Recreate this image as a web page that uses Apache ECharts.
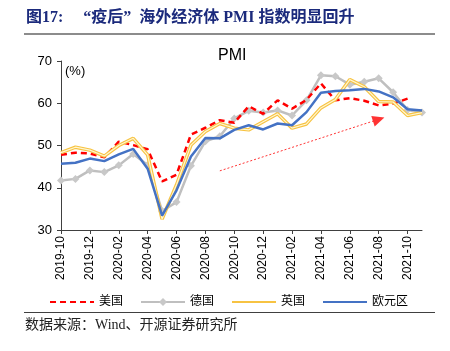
<!DOCTYPE html>
<html>
<head>
<meta charset="utf-8">
<script src="https://cdn.jsdelivr.net/npm/echarts@6/dist/echarts.min.js"></script>
<style>
  html, body { margin: 0; padding: 0; background: #fff; }
  #main { width: 450px; height: 351px; }
</style>
</head>
<body>
<div id="main"></div>
<script>
// 月份标签
const months = [
    '2019-10', '2019-11', '2019-12', '2020-01', '2020-02', '2020-03', '2020-04', '2020-05',
    '2020-06', '2020-07', '2020-08', '2020-09', '2020-10', '2020-11', '2020-12', '2021-01',
    '2021-02', '2021-03', '2021-04', '2021-05', '2021-06', '2021-07', '2021-08', '2021-09',
    '2021-10', '2021-11'
];

// 各经济体制造业 PMI
const usPMI = [47.8, 48.3, 48.1, 47.2, 50.9, 50.1, 49.1, 41.5, 43.1, 52.6, 54.2, 56.0, 55.4,
    59.3, 57.5, 60.7, 58.7, 60.8, 64.7, 60.7, 61.2, 60.6, 59.5, 59.9, 61.1, null];
const dePMI = [41.7, 42.1, 44.1, 43.7, 45.3, 48.0, 45.4, 34.5, 36.6, 45.2, 51.0, 52.2, 56.4,
    58.2, 57.8, 58.3, 57.1, 60.7, 66.6, 66.4, 64.4, 65.1, 65.9, 62.6, 58.4, 57.8];
const ukPMI = [48.3, 49.6, 48.9, 47.5, 50.0, 51.7, 47.8, 32.6, 40.7, 50.1, 53.3, 55.2, 54.1,
    53.7, 55.6, 57.5, 54.1, 55.1, 58.9, 60.9, 65.6, 63.9, 60.4, 60.3, 57.1, 57.8];
const euPMI = [45.7, 45.9, 46.9, 46.3, 47.9, 49.2, 44.5, 33.4, 39.4, 47.4, 51.8, 51.7, 53.7,
    54.8, 53.8, 55.2, 54.8, 57.9, 62.5, 62.9, 63.1, 63.4, 62.8, 61.4, 58.6, 58.3];

const yTicks = { min: 30, max: 70, interval: 10 };

// 箭头起止 (月份, 数值)
const arrowFrom = ['2020-09', 44.0];
const arrowTo = ['2021-08', 56.2];

const numFont = 'Liberation Sans, Arial, sans-serif';
const cnFont = 'Liberation Serif, Noto Sans CJK SC, serif';

const noDot = { opacity: 0 };

const chart = echarts.init(document.getElementById('main'));
chart.setOption({
    animation: false,
    title: {
        text: 'PMI', left: 213, top: 43,
        textStyle: { fontSize: 16, fontWeight: 'normal', color: '#000', fontFamily: numFont }
    },
    grid: { left: 61, right: 28, top: 61, bottom: 121 },
    legend: {
        left: 44, top: 291, itemWidth: 44, itemHeight: 10, itemGap: 17,
        textStyle: { fontSize: 12, color: '#000', fontFamily: cnFont },
        data: [
            { name: '美国', itemStyle: noDot },
            { name: '德国' },
            { name: '英国', itemStyle: noDot },
            { name: '欧元区', itemStyle: noDot }
        ]
    },
    xAxis: {
        type: 'category', data: months, boundaryGap: false,
        axisLine: { lineStyle: { color: '#404040', width: 1 } },
        axisTick: { interval: 1, length: 4, lineStyle: { color: '#404040' } },
        axisLabel: { interval: 1, rotate: 90, fontSize: 12, color: '#000', fontFamily: numFont, margin: 6 },
        splitLine: { show: false }
    },
    yAxis: {
        type: 'value', min: yTicks.min, max: yTicks.max, interval: yTicks.interval,
        axisLine: { show: true, lineStyle: { color: '#404040', width: 1 } },
        axisTick: { show: true, length: 4, lineStyle: { color: '#404040' } },
        axisLabel: { fontSize: 13, color: '#000', fontFamily: numFont, margin: 9 },
        splitLine: { show: false }
    },
    series: [
        {
            name: '美国', type: 'line', data: usPMI, symbol: 'none', z: 3,
            lineStyle: { color: '#ff0000', width: 2.5, type: [6, 4] },
            itemStyle: { color: '#ff0000' },
            markLine: {
                silent: true, symbol: ['none', 'triangle'], symbolSize: [11, 12],
                label: { show: false },
                lineStyle: { color: '#ff3333', width: 1, type: [2, 2] },
                data: [[{ coord: arrowFrom }, { coord: arrowTo }]]
            }
        },
        {
            name: '德国', type: 'line', data: dePMI, symbol: 'diamond', symbolSize: 8,
            showSymbol: true, z: 2,
            lineStyle: { color: '#bfbfbf', width: 2.5 },
            itemStyle: { color: '#c8c8c8' }
        },
        {
            name: '英国', type: 'line', data: ukPMI, symbol: 'none', z: 4,
            lineStyle: { color: '#f7c342', width: 3.5 },
            itemStyle: { color: '#f7c342' }
        },
        {
            name: '英国', type: 'line', data: ukPMI, symbol: 'none', z: 4,
            lineStyle: { color: '#fff6d2', width: 1.2 },
            itemStyle: { color: '#fff6d2' }
        },
        {
            name: '欧元区', type: 'line', data: euPMI, symbol: 'none', z: 5,
            lineStyle: { color: '#4472c4', width: 2.5 },
            itemStyle: { color: '#4472c4' }
        }
    ],
    graphic: [
        {
            type: 'text', left: 26, top: 10,
            style: { text: '图17:     “疫后”  海外经济体 PMI 指数明显回升', fill: '#1b2a7c',
                font: 'bold 16px Liberation Serif, Noto Sans CJK SC, serif' }
        },
        { type: 'rect', left: 24, top: 33, shape: { width: 411, height: 2 }, style: { fill: '#8c8c8c' } },
        {
            type: 'text', left: 65, top: 65,
            style: { text: '(%)', fill: '#000', font: '13px Liberation Sans, Arial, sans-serif' }
        },
        { type: 'rect', left: 24, top: 312, shape: { width: 411, height: 1 }, style: { fill: '#404040' } },
        {
            type: 'text', left: 25, top: 318,
            style: { text: '数据来源：Wind、开源证券研究所', fill: '#222',
                font: '14px Liberation Serif, Noto Sans CJK SC, serif' }
        }
    ]
});
</script>
</body>
</html>
